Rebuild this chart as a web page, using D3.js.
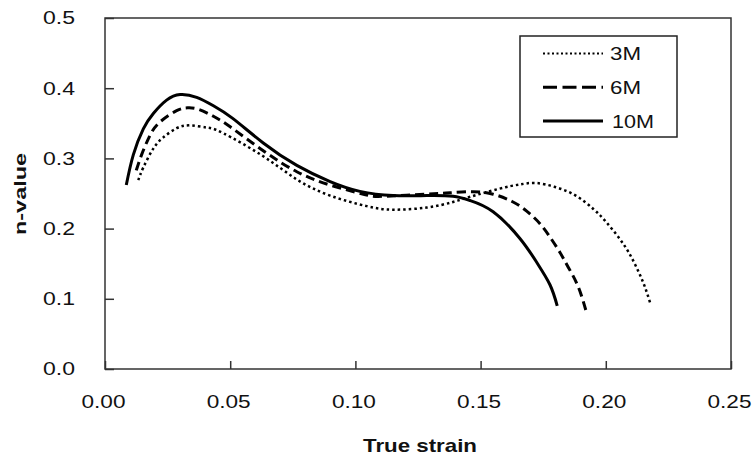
<!DOCTYPE html>
<html>
<head>
<meta charset="utf-8">
<script src="https://cdn.jsdelivr.net/npm/d3@7"></script>
<style>
  body { margin: 0; background: #fff; }
  text { font-family: "Liberation Sans", Arial, sans-serif; fill: #111; }
</style>
</head>
<body>
<svg id="chart" width="753" height="459"></svg>
<script>
// strain (x) / n-value (y)
var strain3M = [0.0133, 0.0153, 0.0193, 0.0233, 0.0286, 0.034, 0.0406, 0.0472, 0.0632, 0.0766, 0.0899, 0.1045, 0.1151, 0.1285, 0.139, 0.1484, 0.160, 0.166, 0.172, 0.180, 0.188, 0.195, 0.200, 0.205, 0.209, 0.2125, 0.2155, 0.218];
var nval3M   = [0.269, 0.287, 0.314, 0.330, 0.343, 0.347, 0.344, 0.336, 0.303, 0.270, 0.247, 0.232, 0.227, 0.230, 0.238, 0.248, 0.259, 0.263, 0.265, 0.259, 0.247, 0.228, 0.210, 0.188, 0.167, 0.143, 0.118, 0.091];

var strain6M = [0.0125, 0.0146, 0.018, 0.022, 0.0286, 0.033, 0.0373, 0.0433, 0.050, 0.0632, 0.0766, 0.0899, 0.1032, 0.111, 0.1285, 0.1378, 0.147, 0.155, 0.1624, 0.1684, 0.1737, 0.1777, 0.1817, 0.185, 0.189, 0.1924];
var nval6M   = [0.283, 0.305, 0.333, 0.352, 0.368, 0.372, 0.370, 0.360, 0.345, 0.311, 0.281, 0.262, 0.249, 0.246, 0.249, 0.251, 0.2525, 0.249, 0.239, 0.225, 0.207, 0.188, 0.166, 0.145, 0.117, 0.079];

var strain10M = [0.0085, 0.0113, 0.0153, 0.0193, 0.0246, 0.030, 0.0366, 0.0433, 0.051, 0.0632, 0.0766, 0.0899, 0.1018, 0.115, 0.1285, 0.139, 0.1458, 0.155, 0.1657, 0.1724, 0.1777, 0.1806];
var nval10M   = [0.262, 0.305, 0.342, 0.364, 0.383, 0.391, 0.387, 0.375, 0.357, 0.322, 0.290, 0.267, 0.253, 0.247, 0.247, 0.246, 0.240, 0.224, 0.186, 0.152, 0.120, 0.090];

var seriesNames = ["3M", "6M", "10M"];
var xTicks = [0, 0.05, 0.10, 0.15, 0.20, 0.25];
var yTicks = [0, 0.1, 0.2, 0.3, 0.4, 0.5];

var svg = d3.select("#chart");
var plotL = 105, plotR = 731, plotT = 18, plotB = 369;

var x = d3.scaleLinear().domain([0, 0.25]).range([plotL, plotR]);
var y = d3.scaleLinear().domain([0, 0.5]).range([plotB, plotT]);

function pts(xs, ys) { return xs.map(function(v, i) { return [v, ys[i]]; }); }
var series = [
  {name: seriesNames[0], data: pts(strain3M, nval3M), width: 2.5, dash: "2.5,3"},
  {name: seriesNames[1], data: pts(strain6M, nval6M), width: 3, dash: "9,5"},
  {name: seriesNames[2], data: pts(strain10M, nval10M), width: 3, dash: null}
];

// axes with inward ticks
var yAxis = d3.axisLeft(y).tickValues(yTicks).tickFormat(d3.format(".1f"))
  .tickSizeInner(-9).tickSizeOuter(0).tickPadding(30);
var gy = svg.append("g").attr("transform", "translate(" + plotL + ",0)").call(yAxis);
gy.select(".domain").remove();
gy.selectAll(".tick line").attr("stroke", "#333").attr("stroke-width", 1.5);
gy.selectAll(".tick text").style("font-size", "18.5px").attr("fill", "#111")
  .attr("textLength", 32).attr("lengthAdjust", "spacingAndGlyphs");

var xAxis = d3.axisBottom(x).tickValues(xTicks).tickFormat(d3.format(".2f"))
  .tickSizeInner(-8).tickSizeOuter(0).tickPadding(26);
var gx = svg.append("g").attr("transform", "translate(0," + plotB + ")").call(xAxis);
gx.select(".domain").remove();
gx.selectAll(".tick line").attr("stroke", "#333").attr("stroke-width", 1.5);
gx.selectAll(".tick text").style("font-size", "19px").attr("fill", "#111").attr("x", -2)
  .attr("textLength", 44).attr("lengthAdjust", "spacingAndGlyphs");

// frame
svg.append("rect")
  .attr("x", plotL).attr("y", plotT)
  .attr("width", plotR - plotL).attr("height", plotB - plotT)
  .attr("fill", "none").attr("stroke", "#333").attr("stroke-width", 1.5);

// curves
var line = d3.line()
  .x(function(d) { return x(d[0]); })
  .y(function(d) { return y(d[1]); })
  .curve(d3.curveNatural);

svg.append("g").selectAll("path")
  .data(series)
  .enter().append("path")
  .attr("d", function(d) { return line(d.data); })
  .attr("fill", "none")
  .attr("stroke", "#000")
  .attr("stroke-width", function(d) { return d.width; })
  .attr("stroke-dasharray", function(d) { return d.dash; });

// axis titles
svg.append("text")
  .attr("x", 420).attr("y", 452)
  .attr("text-anchor", "middle")
  .style("font-size", "19px").style("font-weight", "bold")
  .attr("textLength", 114).attr("lengthAdjust", "spacingAndGlyphs")
  .text("True strain");

svg.append("text")
  .attr("transform", "translate(26,194) rotate(-90)")
  .attr("text-anchor", "middle")
  .style("font-size", "16px").style("font-weight", "bold")
  .attr("textLength", 82).attr("lengthAdjust", "spacingAndGlyphs")
  .text("n-value");

// legend
var legend = svg.append("g");
legend.append("rect")
  .attr("x", 520).attr("y", 36).attr("width", 157).attr("height", 101)
  .attr("fill", "#fff").attr("stroke", "#222").attr("stroke-width", 1.5);

var legendRows = legend.selectAll("g.row")
  .data(series)
  .enter().append("g")
  .attr("class", "row")
  .attr("transform", function(d, i) { return "translate(0," + (53.5 + i * 33.7) + ")"; });

legendRows.append("line")
  .attr("x1", 543).attr("x2", 603).attr("y1", 0).attr("y2", 0)
  .attr("stroke", "#000")
  .attr("stroke-width", function(d) { return d.name === "3M" ? 2 : 3; })
  .attr("stroke-dasharray", function(d) { return d.name === "3M" ? "2,2.5" : (d.name === "6M" ? "14,5.5" : null); });

legendRows.append("text")
  .attr("x", function(d) { return d.name === "10M" ? 612 : 610; })
  .attr("y", 6.7)
  .style("font-size", "18.5px")
  .attr("textLength", function(d) { return d.name === "10M" ? 42 : 31; })
  .attr("lengthAdjust", "spacingAndGlyphs")
  .text(function(d) { return d.name; });
</script>
</body>
</html>
